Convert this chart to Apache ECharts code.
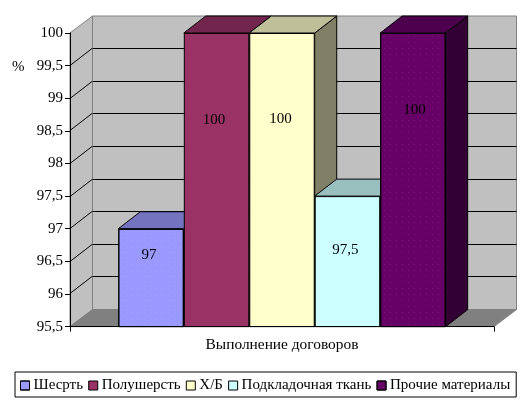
<!DOCTYPE html>
<html><head><meta charset="utf-8">
<style>html,body{margin:0;padding:0;background:#fff}#c{width:532px;height:404px}</style>
<script src="https://cdn.jsdelivr.net/npm/echarts@6/dist/echarts.min.js"></script>
</head><body><div id="c"></div>
<script>
const categories = ['Выполнение договоров'];
const seriesNames = ['Шесрть','Полушерсть','Х/Б','Подкладочная ткань','Прочие материалы'];
const seriesValues = [97,100,100,97.5,100];
const yTicks = [96,96.5,97,97.5,98,98.5,99,99.5];
const frontColors = ['#9999FF','#993366','#FFFFCC','#CCFFFF','#660066'];
const topColors = ['#7373BF','#73264D','#BFBF99','#99BFBF','#4D004D'];
const sideColors = ['#4D4D80','#4D1A33','#808066','#668080','#330033'];
const labelOffsets = [[-2,-22.5],[-2.5,-59.5],[-1.5,-60.5],[-2,-12],[1.5,-69.5]];
const DX = 22, DY = -17, GAP = 0.228, FONT = '"Liberation Serif"', FS = 15;
const yMin = 95.5, yMax = 100;
const comma = v => String(v).replace('.', ',');
const px = v => Math.round(v - 0.5) + 0.5;
const chart = echarts.init(document.getElementById('c'), null, {renderer:'canvas'});
const dots = {symbol:'rect',symbolSize:1,dashArrayX:[1,5],dashArrayY:[1,5],color:'rgba(255,255,255,0.12)',rotation:0};

function wallItem(params, api) {
  const cs = params.coordSys;
  const y = px(api.coord([0, api.value(0)])[1]);
  const l = cs.x, r = cs.x + cs.width;
  const children = [
    {type:'line',shape:{x1:l,y1:y,x2:l+DX,y2:y+DY},style:{stroke:'#000',lineWidth:1}},
    {type:'line',shape:{x1:l+DX+.5,y1:y+DY,x2:r+DX+.5,y2:y+DY},style:{stroke:'#000',lineWidth:1}}
  ];
  if (params.dataIndex === 0) {
    const t = cs.y, b = cs.y + cs.height;
    const grey = {stroke:'#808080',lineWidth:1};
    children.unshift(
      {type:'polygon',shape:{points:[[l,t],[l+DX+.5,t+DY],[l+DX+.5,b+DY],[l,b]]},style:{fill:'#C0C0C0',...grey}},
      {type:'polygon',shape:{points:[[l+DX+.5,t+DY],[r+DX+.5,t+DY],[r+DX+.5,b+DY],[l+DX+.5,b+DY]]},style:{fill:'#C0C0C0',...grey}},
      {type:'polygon',shape:{points:[[l,b],[l+DX+.5,b+DY],[r+DX+.5,b+DY],[r,b]]},style:{fill:'#808080',...grey}}
    );
  }
  return {type:'group',children};
}
function depthItem(params, api) {
  const i = params.dataIndex;
  const c = api.coord([0, api.value(1)]);
  const base = api.coord([0, yMin]);
  const band = api.size([1,0])[0];
  const w = band * (1 - GAP) / seriesValues.length;
  const x0 = c[0] - w * seriesValues.length / 2 + i * w, x1 = x0 + w, y = c[1];
  const line = {stroke:'#000',lineWidth:1};
  return {type:'group',children:[
    {type:'polygon',shape:{points:[[x1,y],[x1+DX,y+DY],[x1+DX,base[1]+DY],[x1,base[1]]]},style:{fill:sideColors[i],...line}},
    {type:'polygon',shape:{points:[[x0,y],[x0+DX,y+DY],[x1+DX,y+DY],[x1,y]]},style:{fill:topColors[i],...line}}
  ]};
}
const barSeries = seriesNames.map((name,i)=>{
  const itemStyle = {color:frontColors[i],borderColor:'#000',borderWidth:1};
  if (i === 0 || i === 4) itemStyle.decal = dots;
  return {
    type:'bar',name,data:[seriesValues[i]],z:3,barGap:0,barCategoryGap:(GAP*100)+'%',itemStyle,
    label:{show:true,position:'inside',offset:labelOffsets[i],fontFamily:FONT,fontSize:FS,color:'#000',formatter:p=>comma(p.value)},
    emphasis:{disabled:true},silent:true,animation:false
  };
});
chart.setOption({
  animation:false,backgroundColor:'#fff',
  textStyle:{fontFamily:FONT},
  grid:{left:70,top:33,width:424,height:293.6,containLabel:false},
  legend:{data:seriesNames,left:15,top:372,orient:'horizontal',icon:'rect',itemWidth:9,itemHeight:9,itemGap:5.2,
    padding:[6,6,4,5],borderColor:'#000',borderWidth:1,
    itemStyle:{borderColor:'#000',borderWidth:1},
    textStyle:{fontFamily:FONT,fontSize:FS,color:'#000',padding:[0,0,0,-1]},selectedMode:false},
  xAxis:{type:'category',data:categories,z:5,
    axisLine:{lineStyle:{color:'#000',width:1}},
    axisTick:{show:true,length:5,lineStyle:{color:'#000'}},
    axisLabel:{fontFamily:FONT,fontSize:15.4,color:'#000',margin:11},splitLine:{show:false}},
  yAxis:{type:'value',min:yMin,max:yMax,interval:0.5,z:5,
    axisLine:{show:true,lineStyle:{color:'#000',width:1}},
    axisTick:{show:true,length:5,lineStyle:{color:'#000'}},
    axisLabel:{fontFamily:FONT,fontSize:FS,color:'#000',margin:7,padding:[2,0,0,0],formatter:comma},splitLine:{show:false}},
  graphic:[{type:'text',left:12,top:60,silent:true,style:{text:'%',fontFamily:FONT,fontSize:FS,fill:'#000'}}],
  tooltip:{show:false},
  series:[
    {type:'custom',name:'walls',z:0,silent:true,renderItem:wallItem,data:yTicks.map(v=>[v]),encode:{y:0},animation:false},
    {type:'custom',name:'depth',z:1,silent:true,renderItem:depthItem,data:seriesValues.map(v=>[0,v]),encode:{x:0,y:1},animation:false},
    ...barSeries
  ]
});
</script></body></html>
